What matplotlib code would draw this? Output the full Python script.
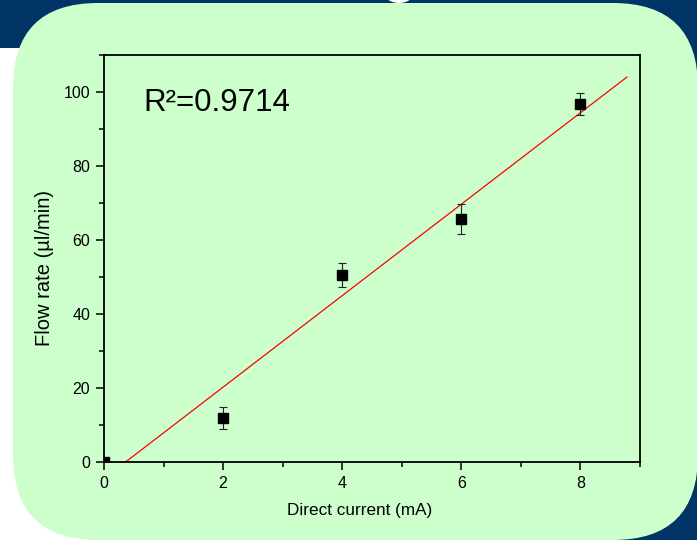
import matplotlib
matplotlib.use('Agg')
import matplotlib.pyplot as plt
from matplotlib.patches import FancyBboxPatch, Rectangle, Ellipse
from matplotlib.ticker import MultipleLocator
import numpy as np

plt.rcParams['font.family'] = ['Liberation Sans', 'DejaVu Sans']

# Data
current = [0, 2, 4, 6, 8]             # mA
flow = [0.0, 11.9, 50.5, 65.7, 96.7]  # ul/min
flow_err = [0.0, 2.9, 3.15, 4.05, 2.9]
r2_text = 'R²=0.9714'
x_ticks = [0, 2, 4, 6, 8]
y_ticks = [0, 20, 40, 60, 80, 100]

navy = '#003366'
green = '#CCFFCC'

fig = plt.figure(figsize=(6.97, 5.4), dpi=100)
fig.patch.set_facecolor('white')

# Background layer in pixel units
bg = fig.add_axes([0, 0, 1, 1], zorder=0)
bg.set_xlim(0, 697)
bg.set_ylim(540, 0)
bg.axis('off')
bg.add_patch(Rectangle((0, 0), 697, 48, color=navy, lw=0))
bg.add_patch(Rectangle((600, 0), 100, 545, color=navy, lw=0))
bg.add_patch(FancyBboxPatch((13, 3), 685, 537,
                            boxstyle='round,pad=0,rounding_size=85',
                            fc=green, ec='none'))
bg.add_patch(Ellipse((399, -9), 32, 24, color='white', lw=0))

# Main plot
ax = fig.add_axes([104 / 697, 78 / 540, 536 / 697, 407 / 540], zorder=1)
ax.set_facecolor('none')

# Linear fit
slope, intercept = np.polyfit(current, flow, 1)
xfit = np.array([0, 8.78])
ax.plot(xfit, slope * xfit + intercept, color='red', lw=0.9, zorder=2)

ax.errorbar(current, flow, yerr=flow_err, fmt='s', color='black',
            ms=6.5, ecolor='#222222', elinewidth=0.8, capsize=3.2,
            capthick=0.8, zorder=3)

ax.set_xlim(0, 9)
ax.set_ylim(0, 110)
ax.set_xticks(x_ticks)
ax.set_yticks(y_ticks)
ax.xaxis.set_minor_locator(MultipleLocator(1))
ax.yaxis.set_minor_locator(MultipleLocator(10))
ax.tick_params(which='major', direction='out', length=6, width=1.1,
               labelsize=11.5, pad=4)
ax.tick_params(which='minor', direction='out', length=3.5, width=1.1)
for s in ax.spines.values():
    s.set_linewidth(1.3)

ax.set_xlabel('Direct current (mA)', fontsize=12.3)
ax.set_ylabel('Flow rate (µl/min)', fontsize=14.5)
ax.xaxis.set_label_coords(0.476, -0.1)
ax.yaxis.set_label_coords(-0.093, 0.477)

ax.text(0.073, 0.862, r2_text, transform=ax.transAxes, fontsize=22.5,
        va='baseline', ha='left')

fig.savefig('out.png', dpi=100)
